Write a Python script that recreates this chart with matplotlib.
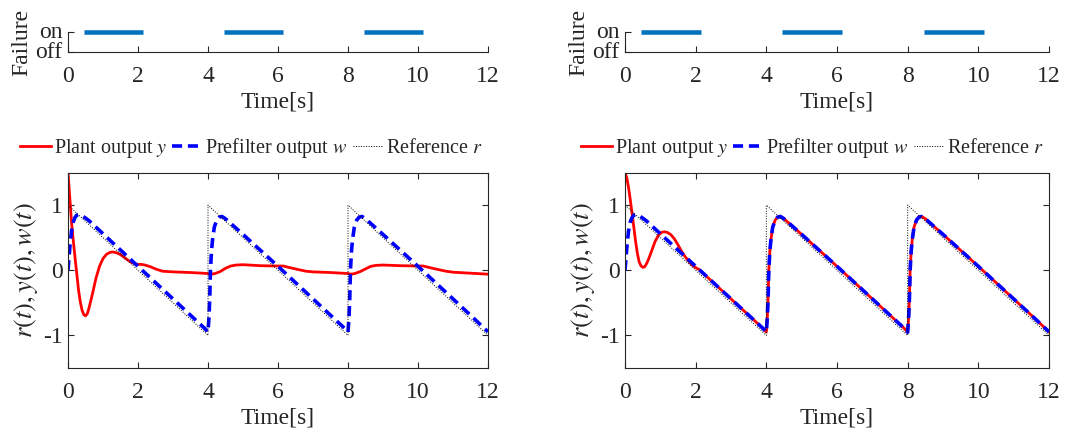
import numpy as np
import matplotlib
matplotlib.use("Agg")
import matplotlib.pyplot as plt

plt.rcParams['font.family'] = ['Liberation Serif', 'DejaVu Serif']
plt.rcParams['mathtext.fontset'] = 'stix'
plt.rcParams['axes.unicode_minus'] = False

# ---------------- data ----------------
fail_start = [0.45, 4.45, 8.45]
fail_end = [2.15, 6.15, 10.15]

t_ref = [0, 4, 4, 8, 8, 12]
r_ref = [1, -1, 1, -1, 1, -1]

t_w = [0, 0.03, 0.06, 0.1, 0.15, 0.2, 0.25, 0.3, 0.4, 0.6, 1.0, 1.5, 2.0, 2.5, 3.0, 3.5, 3.9, 4.0,
       4.03, 4.05, 4.07, 4.1, 4.13, 4.18, 4.25, 4.32, 4.4, 4.5, 5.0, 5.5, 6.0, 6.5, 7.0, 7.5, 7.9, 8.0,
       8.03, 8.05, 8.07, 8.1, 8.13, 8.18, 8.25, 8.32, 8.4, 8.5, 9.0, 9.5, 10.0, 10.5, 11.0, 11.5, 12.0]
w_out = [0, 0.2, 0.4, 0.6, 0.74, 0.81, 0.845, 0.855, 0.84, 0.76, 0.56, 0.31, 0.06, -0.19, -0.44, -0.69, -0.89, -0.95,
         -0.7, -0.43, 0.0, 0.3, 0.47, 0.66, 0.77, 0.815, 0.825, 0.79, 0.55, 0.305, 0.06, -0.19, -0.44, -0.69, -0.89, -0.95,
         -0.7, -0.43, 0.0, 0.3, 0.47, 0.66, 0.77, 0.815, 0.825, 0.79, 0.55, 0.305, 0.06, -0.19, -0.44, -0.69, -0.945]

# left panel plant output
t_yl = [0, 0.05, 0.1, 0.15, 0.2, 0.25, 0.3, 0.35, 0.4, 0.45, 0.5, 0.55, 0.6, 0.7, 0.8, 0.9, 1.0, 1.1,
        1.2, 1.3, 1.4, 1.5, 1.6, 1.7, 1.8, 1.9, 2.0, 2.1, 2.2, 2.35, 2.5, 2.7, 3.0, 3.5, 4.0,
        4.1, 4.2, 4.35, 4.5, 4.65, 4.8, 5.0, 5.5, 6.0, 6.15, 6.3, 6.5, 6.8, 7.0, 7.5, 8.0,
        8.1, 8.2, 8.35, 8.5, 8.65, 8.8, 9.0, 9.5, 10.0, 10.15, 10.3, 10.5, 10.8, 11.0, 11.5, 12.0]
y_left = [1.5, 1.12, 0.74, 0.46, 0.2, -0.05, -0.3, -0.48, -0.61, -0.68, -0.7, -0.67, -0.58, -0.36, -0.12, 0.06, 0.18, 0.245,
          0.275, 0.28, 0.265, 0.24, 0.2, 0.16, 0.125, 0.1, 0.09, 0.09, 0.08, 0.055, 0.02, -0.015, -0.025, -0.035, -0.05,
          -0.06, -0.05, -0.02, 0.03, 0.065, 0.08, 0.085, 0.07, 0.065, 0.065, 0.045, 0.02, -0.015, -0.025, -0.035, -0.05,
          -0.06, -0.05, -0.02, 0.02, 0.06, 0.075, 0.08, 0.07, 0.065, 0.065, 0.045, 0.02, -0.015, -0.03, -0.045, -0.06]

# right panel plant output (initial transient; afterwards it coincides with w)
t_yr = [0, 0.05, 0.1, 0.15, 0.2, 0.25, 0.3, 0.35, 0.4, 0.45, 0.5, 0.55, 0.6, 0.66, 0.75, 0.85, 0.95, 1.05,
        1.12, 1.2, 1.3, 1.4, 1.5, 1.6, 1.7, 1.8, 1.9, 2.0, 2.1]
y_right = [1.5, 1.42, 1.27, 1.08, 0.87, 0.66, 0.44, 0.26, 0.13, 0.07, 0.045, 0.05, 0.09, 0.16, 0.29, 0.44, 0.54, 0.585,
           0.59, 0.58, 0.545, 0.48, 0.39, 0.29, 0.21, 0.14, 0.08, 0.04, 0.01]

xticks = [0, 2, 4, 6, 8, 10, 12]
yticks = [-1, 0, 1]
ytick_labels = ['-1', '0', '1']

# ---------------- figure ----------------
W, H = 1065, 433
fig = plt.figure(figsize=(W / 100, H / 100), dpi=100)

AX_COL = '#262626'
FS = 17
YFS = 19
LFS = 14.5


def fx(px):
    return px / W


def fy(py):
    return 1 - py / H


panels = [
    dict(x0=68, x1=488, y_t=t_yl, y_v=y_left),
    dict(x0=625, x1=1049, y_t=None, y_v=None),
]

wt = np.array(t_w)
wv = np.array(w_out)

for i, p in enumerate(panels):
    x0, x1 = p['x0'], p['x1']
    # ---- failure indicator axes ----
    axf = fig.add_axes([fx(x0), fy(52.3), fx(x1 - x0), 20 / H])
    for s, e in zip(fail_start, fail_end):
        axf.plot([s, e], [1, 1], color='#0072BD', lw=3.3, solid_capstyle='butt', clip_on=False)
    axf.set_xlim(0, 12)
    axf.set_ylim(0, 1)
    axf.set_xticks(xticks)
    axf.set_xticklabels([str(v) for v in xticks])
    axf.set_yticks([0, 1])
    axf.set_yticklabels(['off', 'on'])
    for side in ['top', 'right']:
        axf.spines[side].set_visible(False)
    for side in ['left', 'bottom']:
        axf.spines[side].set_color(AX_COL)
        axf.spines[side].set_linewidth(0.8)
    axf.tick_params(axis='x', direction='in', length=4, width=0.8, colors=AX_COL, labelsize=FS, pad=10)
    axf.tick_params(axis='y', direction='in', length=4, width=0.8, colors=AX_COL, labelsize=FS, pad=4)
    for lab in axf.get_yticklabels():
        lab.set_verticalalignment('center')
    axf.set_xlabel('Time[s]', fontsize=FS, color=AX_COL, labelpad=3)
    axf.set_ylabel('Failure', fontsize=FS, color=AX_COL, labelpad=2)

    # ---- response axes ----
    ax = fig.add_axes([fx(x0), fy(368), fx(x1 - x0), 195.5 / H])
    if i == 0:
        ty, vy = p['y_t'], p['y_v']
    else:
        mask = wt > 2.1
        ty = list(t_yr) + list(wt[mask])
        vy = list(y_right) + list(wv[mask])
    ax.plot(ty, vy, color='#FF0000', lw=2.0, label='Plant output $y$')
    ax.plot(t_w, w_out, color='#0000FF', lw=2.6, linestyle=(0, (2.8, 1.6)),
            label='Prefilter output $w$')
    ax.plot(t_ref, r_ref, color='black', lw=0.7, linestyle=(0, (1, 1.6)), label='Reference $r$')
    ax.set_xlim(0, 12)
    ax.set_ylim(-1.5, 1.5)
    ax.set_xticks(xticks)
    ax.set_xticklabels([str(v) for v in xticks])
    ax.set_yticks(yticks)
    ax.set_yticklabels(ytick_labels)
    for side in ax.spines:
        ax.spines[side].set_color(AX_COL)
        ax.spines[side].set_linewidth(0.8)
    ax.tick_params(axis='both', direction='in', top=True, right=True, length=4, width=0.8,
                   colors=AX_COL, labelsize=FS)
    ax.tick_params(axis='x', pad=10)
    ax.tick_params(axis='y', pad=4)
    ax.set_xlabel('Time[s]', fontsize=FS, color=AX_COL, labelpad=3)
    ax.set_ylabel('$r(t), y(t), w(t)$', fontsize=YFS, color=AX_COL, labelpad=2)

    leg = ax.legend(loc='center right', bbox_to_anchor=(1.0 - 5 / (x1 - x0), (368 - 148.3) / 195.5),
                    ncol=3, frameon=False, fontsize=LFS, handlelength=1.5, handletextpad=0.15,
                    columnspacing=0.25, borderpad=0, borderaxespad=0)
    for txt in leg.get_texts():
        txt.set_color(AX_COL)

fig.savefig('out.png', dpi=100)
